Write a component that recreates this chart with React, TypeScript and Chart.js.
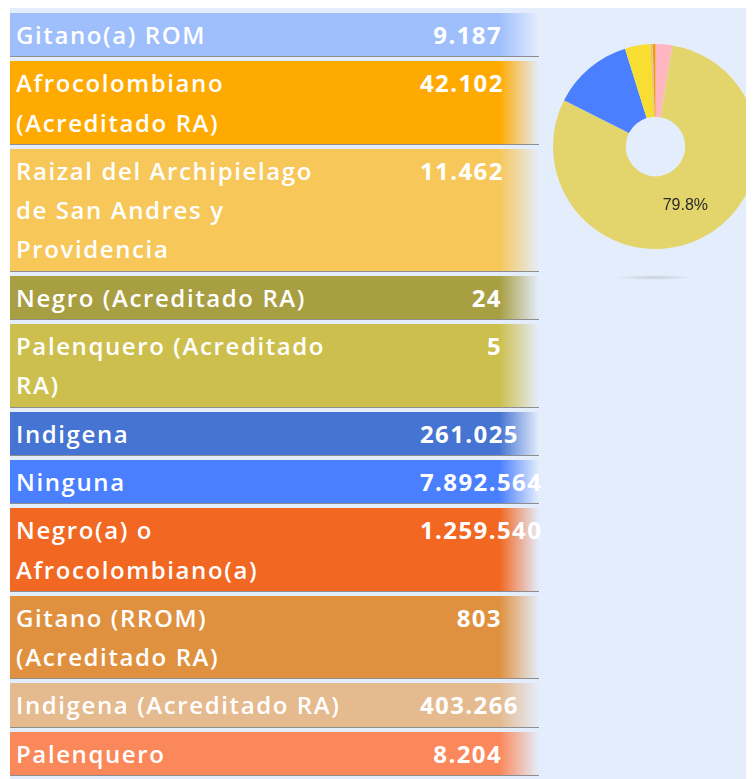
import React, { useEffect, useRef } from "react";
import { Chart, registerables } from "chart.js";

Chart.register(...registerables);

const categories: string[] = [
  "Gitano(a) ROM",
  "Afrocolombiano\n(Acreditado RA)",
  "Raizal del Archipielago\nde San Andres y\nProvidencia",
  "Negro (Acreditado RA)",
  "Palenquero (Acreditado\nRA)",
  "Indigena",
  "Ninguna",
  "Negro(a) o\nAfrocolombiano(a)",
  "Gitano (RROM)\n(Acreditado RA)",
  "Indigena (Acreditado RA)",
  "Palenquero",
];

const values: number[] = [9187, 42102, 11462, 24, 5, 261025, 7892564, 1259540, 803, 403266, 8204];

const rowColors: string[] = [
  "#9EBFFC",
  "#FFAA00",
  "#F7C75A",
  "#A89E42",
  "#CDBF4E",
  "#4574D2",
  "#4A7FFF",
  "#F26722",
  "#E0913F",
  "#E5BA8F",
  "#FB885A",
];

const pieColors: string[] = [
  "#9EBFFC",
  "#F59A0C",
  "#F7C75A",
  "#A89E42",
  "#CDBF4E",
  "#FFB6C1",
  "#E3D46B",
  "#4A80FF",
  "#E0913F",
  "#F7DE30",
  "#FB885A",
];

// order in which the categories appear around the doughnut
const pieOrder: number[] = [5, 6, 7, 9, 10, 0, 2, 3, 4, 8, 1];

const BG = "#E4EDFC";
const FONT = "'Open Sans', 'Noto Sans', sans-serif";

function fmt(n: number): string {
  return String(n).replace(/\B(?=(\d{3})+(?!\d))/g, ".");
}

const pctLabelPlugin = {
  id: "pctLabel",
  afterDatasetsDraw(chart: any) {
    const ctx = chart.ctx;
    const ds = chart.data.datasets[0];
    const data: number[] = ds.data;
    const total = data.reduce((a, b) => a + b, 0);
    const meta = chart.getDatasetMeta(0);
    ctx.save();
    ctx.font = "16px 'Liberation Sans', Arial, sans-serif";
    ctx.fillStyle = "#2a2a2a";
    ctx.textAlign = "center";
    ctx.textBaseline = "middle";
    meta.data.forEach((arc: any, i: number) => {
      const p = data[i] / total;
      if (p > 0.2) {
        const pos = arc.tooltipPosition();
        ctx.fillText((p * 100).toFixed(1) + "%", pos.x, pos.y);
      }
    });
    ctx.restore();
  },
};

function Doughnut() {
  const ref = useRef<HTMLCanvasElement | null>(null);
  useEffect(() => {
    if (!ref.current) return;
    const chart = new Chart(ref.current, {
      type: "doughnut",
      data: {
        labels: pieOrder.map((i) => categories[i].replace(/\n/g, " ")),
        datasets: [
          {
            data: pieOrder.map((i) => values[i]),
            backgroundColor: pieOrder.map((i) => pieColors[i]),
            borderWidth: 0,
          },
        ],
      },
      options: {
        animation: false,
        responsive: false,
        maintainAspectRatio: false,
        cutout: "29%",
        layout: { padding: 0 },
        plugins: {
          legend: { display: false },
          tooltip: { enabled: false },
        },
      },
      plugins: [pctLabelPlugin],
    });
    return () => chart.destroy();
  }, []);
  return (
    <canvas
      ref={ref}
      width={205}
      height={205}
      style={{ position: "absolute", left: 543, top: 36, width: 205, height: 205 }}
    />
  );
}

export default function App() {
  return (
    <div
      style={{
        marginLeft: 2,
        width: 744,
        height: 771,
        background: BG,
        position: "relative",
        overflow: "hidden",
        fontFamily: FONT,
      }}
    >
      <div style={{ position: "absolute", left: 0, top: 5, width: 529 }}>
        {categories.map((c, i) => (
          <div
            key={i}
            style={{
              position: "relative",
              background: `linear-gradient(to right, ${rowColors[i]} 0%, ${rowColors[i]} 92.5%, ${rowColors[i]}00 100%)`,
              borderBottom: "1px solid #8E8E8E",
              padding: "2px 0",
              marginBottom: 4,
              lineHeight: "39.3px",
              fontSize: 24,
              color: "#FFFFFF",
            }}
          >
            <div style={{ paddingLeft: 6, whiteSpace: "pre", fontWeight: 600, letterSpacing: "1.6px" }}>{c}</div>
            <div
              style={{
                position: "absolute",
                left: 410,
                top: 2,
                width: 82,
                textAlign: "right",
                whiteSpace: "nowrap",
                fontWeight: 700,
                fontSize: 24,
                letterSpacing: "1.4px",
              }}
            >
              {fmt(values[i])}
            </div>
          </div>
        ))}
      </div>
      <Doughnut />
      <div
        style={{
          position: "absolute",
          left: 603,
          top: 267,
          width: 82,
          height: 5,
          background: "radial-gradient(ellipse at center, rgba(0,0,0,0.13) 0%, rgba(0,0,0,0) 70%)",
        }}
      />
    </div>
  );
}
